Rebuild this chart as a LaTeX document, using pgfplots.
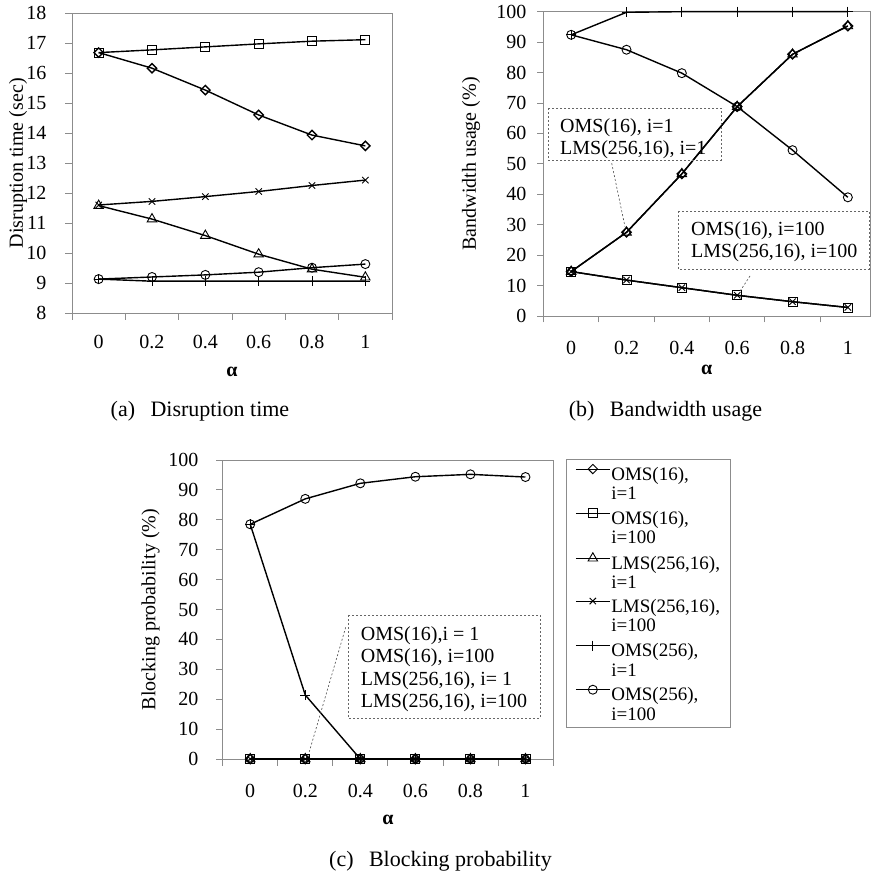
\documentclass[border=0pt]{standalone}
\usepackage{fontspec}
\setmainfont{Liberation Serif}
\usepackage{pgfplots}
\pgfplotsset{compat=1.18}

\definecolor{axisgray}{gray}{0.55}
\newcommand{\lblfont}{\fontsize{20}{24}\selectfont}

\pgfplotsset{
  excelstyle/.style={
    scale only axis,
    clip=false,
    axis line style={draw=axisgray, line width=0.8pt},
    tick style={draw=axisgray, line width=0.8pt},
    tick align=outside,
    major tick length=6.5pt,
    xtick pos=bottom, ytick pos=left,
    xticklabels={},
    extra x ticks={0,1,2,3,4,5},
    extra x tick labels={0,0.2,0.4,0.6,0.8,1},
    extra x tick style={major tick length=0pt},
    xmin=-0.5,
    /pgf/number format/assume math mode=true,
    tick label style={font=\lblfont},
    yticklabel style={anchor=east, inner sep=0pt},
    xticklabel style={anchor=north, inner sep=0pt},
    xlabel={\textbf{α}},
    every axis plot/.append style={line width=1.4pt, black,
      mark options={solid, fill=white, line width=0.9pt}},
  },
  s1/.style={mark=square, mark size=3.3pt, mark options={rotate=45}},
  s2/.style={mark=square, mark size=4.5pt},
  s3/.style={mark=triangle, mark size=5.5pt},
  s4/.style={mark=x, mark size=4.5pt},
  s5/.style={mark=+, mark size=5pt},
  s6/.style={mark=o, mark size=4.5pt},
}

\begin{document}
\begin{tikzpicture}
\useasboundingbox (0pt,0pt) rectangle (870pt,875pt);

% (a) Disruption time
\begin{axis}[excelstyle,
  at={(72pt,561.7pt)}, anchor=south west,
  width=320pt, height=300pt,
  xmax=5.5, xtick={-0.5,0.5,...,5.5},
  ymin=8, ymax=18, ytick={8,9,...,18},
  yticklabel style={xshift=-19pt},
  xticklabel style={yshift=-22pt},
  ylabel={Disruption time (sec)},
  every axis y label/.style={at={([xshift=-54pt]axis description cs:0,0.5)}, rotate=90, anchor=center, font=\lblfont},
  every axis x label/.style={at={([yshift=-59pt]axis description cs:0.5,0)}, anchor=center, font=\lblfont},
]
\addplot[s1] coordinates {(0,16.69) (1,16.17) (2,15.44) (3,14.61) (4,13.94) (5,13.58)};
\addplot[s2] coordinates {(0,16.69) (1,16.78) (2,16.88) (3,16.98) (4,17.07) (5,17.12)};
\addplot[s3] coordinates {(0,11.59) (1,11.14) (2,10.59) (3,9.97) (4,9.47) (5,9.20)};
\addplot[s4] coordinates {(0,11.61) (1,11.73) (2,11.89) (3,12.06) (4,12.26) (5,12.44)};
\addplot[s5] coordinates {(0,9.14) (1,9.07) (2,9.07) (3,9.07) (4,9.07) (5,9.07)};
\addplot[s6] coordinates {(0,9.14) (1,9.21) (2,9.28) (3,9.37) (4,9.52) (5,9.64)};
\end{axis}

% (b) Bandwidth usage
\begin{axis}[excelstyle,
  at={(543.5pt,559pt)}, anchor=south west,
  width=326.5pt, height=304.3pt,
  xmax=5.4, xtick={-0.5,0.5,...,4.5},
  ymin=0, ymax=100, ytick={0,10,...,100},
  yticklabel style={xshift=-10.5pt},
  xticklabel style={yshift=-25pt},
  ylabel={Bandwidth usage (\%)},
  every axis y label/.style={at={([xshift=-72.5pt]axis description cs:0,0.5)}, rotate=90, anchor=center, font=\lblfont},
  every axis x label/.style={at={([yshift=-54pt]axis description cs:0.5,0)}, anchor=center, font=\lblfont},
]
\addplot[s1] coordinates {(0,14.6) (1,27.5) (2,46.7) (3,68.8) (4,86.0) (5,95.3)};
\addplot[s2] coordinates {(0,14.6) (1,11.8) (2,9.3) (3,6.8) (4,4.7) (5,2.8)};
\addplot[s3] coordinates {(0,14.6) (1,27.5) (2,46.7) (3,68.8) (4,86.0) (5,95.3)};
\addplot[s4] coordinates {(0,14.6) (1,11.8) (2,9.3) (3,6.8) (4,4.7) (5,2.8)};
\addplot[s5] coordinates {(0,92.4) (1,99.8) (2,100) (3,100) (4,100) (5,100)};
\addplot[s6] coordinates {(0,92.4) (1,87.5) (2,79.8) (3,68.8) (4,54.5) (5,39.0)};
\end{axis}

% (c) Blocking probability
\begin{axis}[excelstyle,
  at={(222.7pt,116pt)}, anchor=south west,
  width=330.3pt, height=299pt,
  xmax=5.5, xtick={-0.5,0.5,...,5.5},
  ymin=0, ymax=100, ytick={0,10,...,100},
  yticklabel style={xshift=-17.7pt},
  xticklabel style={yshift=-25pt},
  ylabel={Blocking probability (\%)},
  every axis y label/.style={at={([xshift=-72pt]axis description cs:0,0.5)}, rotate=90, anchor=center, font=\lblfont},
  every axis x label/.style={at={([yshift=-61pt]axis description cs:0.5,0)}, anchor=center, font=\lblfont},
  legend cell align=left,
  legend style={at={(axis description cs:1,1)}, anchor=north west,
    xshift=13pt, yshift=1pt, draw=axisgray, line width=0.8pt,
    font=\fontsize{19}{19.5}\selectfont,
    inner xsep=9pt, inner ysep=5pt, row sep=6.5pt,
    nodes={align=left, inner sep=1pt}},
  legend image code/.code={%
    \draw[mark repeat=2, mark phase=2, line width=0.9pt, #1]
      plot coordinates {(0pt,15pt) (17pt,15pt) (34pt,15pt)};},
]
\addplot[s1] coordinates {(0,0) (1,0) (2,0) (3,0) (4,0) (5,0)};
\addlegendentry{OMS(16),\\i=1}
\addplot[s2] coordinates {(0,0) (1,0) (2,0) (3,0) (4,0) (5,0)};
\addlegendentry{OMS(16),\\i=100}
\addplot[s3] coordinates {(0,0) (1,0) (2,0) (3,0) (4,0) (5,0)};
\addlegendentry{LMS(256,16),\\i=1}
\addplot[s4] coordinates {(0,0) (1,0) (2,0) (3,0) (4,0) (5,0)};
\addlegendentry{LMS(256,16),\\i=100}
\addplot[s5] coordinates {(0,78.5) (1,21.4) (2,0) (3,0) (4,0) (5,0)};
\addlegendentry{OMS(256),\\i=1}
\addplot[s6] coordinates {(0,78.5) (1,87.0) (2,92.2) (3,94.4) (4,95.2) (5,94.3)};
\addlegendentry{OMS(256),\\i=100}
\end{axis}

% callout boxes
\begin{scope}[font=\lblfont]
  \draw[black!60, dash pattern=on 2pt off 2pt, line width=0.6pt]
    (548pt,767pt) rectangle (721pt,715pt);
  \node[anchor=base west, inner sep=0pt] at (560pt,742.3pt) {OMS(16), i=1};
  \node[anchor=base west, inner sep=0pt] at (560pt,720pt) {LMS(256,16), i=1};
  \draw[black!70, dash pattern=on 2pt off 2pt, line width=0.6pt]
    (611.7pt,711.7pt) -- (625pt,648.3pt);

  \draw[black!60, dash pattern=on 2pt off 2pt, line width=0.6pt]
    (678pt,664pt) rectangle (869pt,606pt);
  \node[anchor=base west, inner sep=0pt] at (691pt,639pt) {OMS(16), i=100};
  \node[anchor=base west, inner sep=0pt] at (691pt,617pt) {LMS(256,16), i=100};
  \draw[black!70, dash pattern=on 2pt off 2pt, line width=0.6pt]
    (750pt,599pt) -- (739pt,582.3pt);

  \draw[black!60, dash pattern=on 2pt off 2pt, line width=0.6pt]
    (348pt,260pt) rectangle (540pt,157pt);
  \node[anchor=base west, inner sep=0pt] at (360.7pt,234pt) {OMS(16),i = 1};
  \node[anchor=base west, inner sep=0pt] at (360.7pt,212.3pt) {OMS(16), i=100};
  \node[anchor=base west, inner sep=0pt] at (360.7pt,189.7pt) {LMS(256,16), i= 1};
  \node[anchor=base west, inner sep=0pt] at (360.7pt,167.3pt) {LMS(256,16), i=100};
  \draw[black!70, dash pattern=on 2pt off 2pt, line width=0.6pt]
    (345.7pt,247.7pt) -- (309.3pt,123.3pt);
\end{scope}

% captions
\begin{scope}[font=\fontsize{22}{26}\selectfont]
  \node[anchor=base] at (200pt,458pt) {(a)\hspace{0.7em}Disruption time};
  \node[anchor=base] at (665.5pt,458pt) {(b)\hspace{0.7em}Bandwidth usage};
  \node[anchor=base] at (440.5pt,9pt) {(c)\hspace{0.7em}Blocking probability};
\end{scope}
\end{tikzpicture}
\end{document}
